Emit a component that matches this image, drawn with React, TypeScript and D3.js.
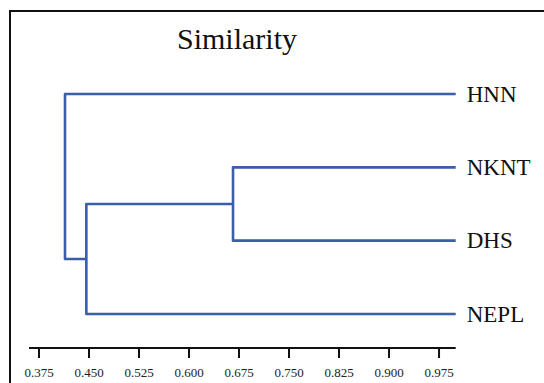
import * as d3 from "d3";
import React from "react";

const W = 544;
const H = 383;

// leaves in display order (top to bottom)
const leaves = ["HNN", "NKNT", "DHS", "NEPL"];
// merges: [childA, childB, similarity]; ids >= leaves.length refer to earlier merges
const merges: [number, number, number][] = [
  [1, 2, 0.666],
  [4, 3, 0.446],
  [0, 5, 0.414],
];
const tickValues = [0.375, 0.45, 0.525, 0.6, 0.675, 0.75, 0.825, 0.9, 0.975];
const leafSimilarity = 1.0;

const lineColor = "#3a5ea8";
const serif = "Liberation Serif";

const x = d3.scaleLinear().domain([0.36, 1.0]).range([29, 455.7]);
const y = d3.scalePoint<string>().domain(leaves).range([94, 314]);
const fmt = d3.format(".3f");
const axisY = 348;

function buildLinks() {
  const pos = leaves.map((l) => ({ x: x(leafSimilarity), y: y(l)! }));
  const links: string[] = [];
  merges.forEach(([a, b, s]) => {
    const pa = pos[a];
    const pb = pos[b];
    const px = x(s);
    const p = d3.path();
    p.moveTo(pa.x, pa.y);
    p.lineTo(px, pa.y);
    p.lineTo(px, pb.y);
    p.lineTo(pb.x, pb.y);
    links.push(p.toString());
    pos.push({ x: px, y: (pa.y + pb.y) / 2 });
  });
  return links;
}

export default function App() {
  const links = buildLinks();
  const [x0, x1] = x.range();

  return (
    <svg
      width={W}
      height={H}
      style={{ position: "absolute", left: 0, top: 0, background: "#fff" }}
    >
      {/* frame (left + top) */}
      <path d={`M10,${H} L10,11 L${W},11`} fill="none" stroke="#111" strokeWidth={2} />

      <text
        x={237}
        y={49}
        textAnchor="middle"
        fill="#111"
        style={{ fontFamily: serif, fontSize: 30 }}
      >
        Similarity
      </text>

      {links.map((d, i) => (
        <path
          key={i}
          d={d}
          fill="none"
          stroke={lineColor}
          strokeWidth={2.6}
          strokeLinejoin="round"
        />
      ))}

      {leaves.map((l) => (
        <text
          key={l}
          x={x(leafSimilarity) + 11}
          y={y(l)! + 7.5}
          fill="#111"
          style={{ fontFamily: serif, fontSize: 23 }}
        >
          {l}
        </text>
      ))}

      {/* axis */}
      <g transform={`translate(0,${axisY})`}>
        <line x1={x0} x2={x1} y1={0} y2={0} stroke="#111" strokeWidth={2} />
        {tickValues.map((t) => (
          <g key={t} transform={`translate(${x(t)},0)`}>
            <line y1={0} y2={10} stroke="#111" strokeWidth={2} />
            <text
              y={29}
              textAnchor="middle"
              fill="#222"
              style={{ fontFamily: serif, fontSize: 13 }}
            >
              {fmt(t)}
            </text>
          </g>
        ))}
      </g>
    </svg>
  );
}
